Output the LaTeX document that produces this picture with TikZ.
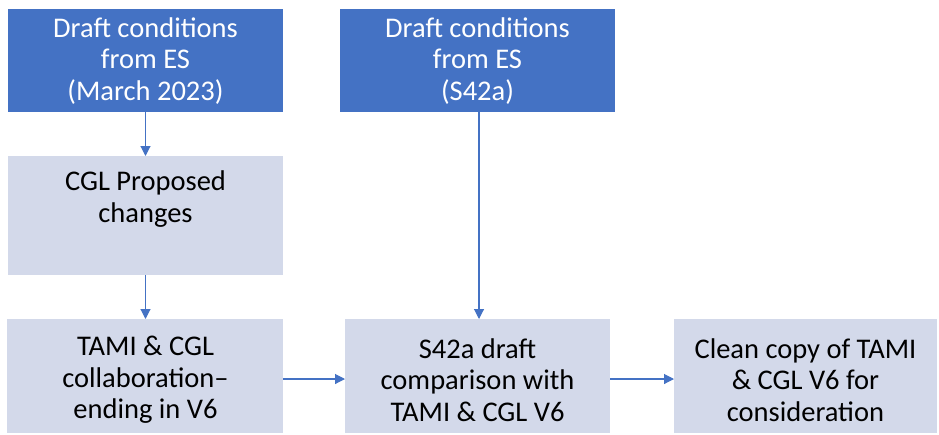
\documentclass[tikz,border=0pt]{standalone}
\usepackage{fontspec}
\setmainfont{Carlito}
\usetikzlibrary{arrows.meta}
\definecolor{darkblue}{HTML}{4472C4}
\definecolor{lightbox}{HTML}{D3D9EA}
\begin{document}
\begin{tikzpicture}[x=1pt,y=-1pt,
  bluebox/.style={fill=darkblue,draw=none},
  greybox/.style={fill=lightbox,draw=none},
  wtext/.style={text=white,align=center,font=\fontsize{28.5}{31.5}\selectfont,inner sep=0pt},
  btext/.style={text=black,align=center,font=\fontsize{28.5}{31.5}\selectfont,inner sep=0pt},
  conn/.style={draw=darkblue,line width=1.1pt,-{Triangle[length=10pt,width=10pt]}}]
\useasboundingbox (0,0) rectangle (939,434);
% boxes
\path[bluebox] (8,9) rectangle (283,112);
\node[wtext] (A) at (145.5,61) {Draft conditions\\from ES\\(March 2023)};
\path[bluebox] (340,9) rectangle (615,112);
\node[wtext] (B) at (477.5,61) {Draft conditions\\from ES\\(S42a)};
\path[greybox] (8,156) rectangle (283,275);
\node[btext] (C) at (145.5,199) {CGL Proposed\\changes};
\path[greybox] (7,319) rectangle (283,433);
\node[btext] (D) at (145.5,380) {TAMI \& CGL\\collaboration–\\ending in V6};
\path[greybox] (345,319) rectangle (610,433);
\node[btext] (E) at (477.5,380) {S42a draft\\comparison with\\TAMI \& CGL V6};
\path[greybox] (674,319) rectangle (937,433);
\node[btext] (F) at (805.5,380) {Clean copy of TAMI\\\& CGL V6 for\\consideration};
% anchor coordinates on box edges
\coordinate (Abot) at (145.5,112);
\coordinate (Ctop) at (145.5,156);
\coordinate (Cbot) at (145.5,275);
\coordinate (Dtop) at (145.5,319);
\coordinate (Bbot) at (479,112);
\coordinate (Etop) at (479,319);
\coordinate (Dright) at (283,379);
\coordinate (Eleft) at (345,379);
\coordinate (Eright) at (610,379);
\coordinate (Fleft) at (674,379);
\draw[conn] (Abot) -- (Ctop);
\draw[conn] (Cbot) -- (Dtop);
\draw[conn] (Bbot) -- (Etop);
\draw[conn] (Dright) -- (Eleft);
\draw[conn] (Eright) -- (Fleft);
\end{tikzpicture}
\end{document}
